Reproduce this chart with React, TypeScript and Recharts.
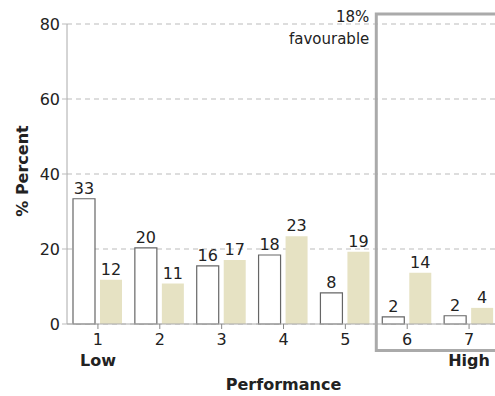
import React from 'react';
import { BarChart, Bar, XAxis, YAxis, CartesianGrid, ReferenceArea, Label, LabelList } from 'recharts';

const categories = ['1', '2', '3', '4', '5', '6', '7'];
const outlineValues = [33.4, 20.3, 15.5, 18.4, 8.3, 1.9, 2.2];
const filledValues = [11.8, 10.8, 17.1, 23.4, 19.3, 13.7, 4.3];
const yTicks = [0, 20, 40, 60, 80];
const endLabels: Record<string, string> = { '1': 'Low', '7': 'High' };
const boxTitle = ['18%', 'favourable'];
const favourableFrom = '6';
const favourableTo = '7';

const data = categories.map((c, i) => ({ cat: c, a: outlineValues[i], b: filledValues[i] }));

const FONT = 'DejaVu Sans, sans-serif';
const TXT = '#222';

const XTick = (props: any) => {
  const { x, y, payload } = props;
  const extra = endLabels[payload.value];
  return (
    <g>
      <text x={x} y={y + 14} textAnchor="middle" fontSize={16} fontFamily={FONT} fill={TXT}>
        {payload.value}
      </text>
      {extra && (
        <text x={x} y={y + 35} textAnchor="middle" fontSize={16} fontWeight="bold" fontFamily={FONT} fill={TXT}>
          {extra}
        </text>
      )}
    </g>
  );
};

const XTitle = (props: any) => {
  const { viewBox } = props;
  return (
    <text x={viewBox.x + viewBox.width / 2} y={viewBox.y + 66} textAnchor="middle" fontSize={16} fontWeight="bold" fontFamily={FONT} fill={TXT}>
      Performance
    </text>
  );
};

const YTitle = (props: any) => {
  const { viewBox } = props;
  const cx = 14;
  const cy = viewBox.y + viewBox.height / 2 - 3;
  return (
    <text x={cx} y={cy} textAnchor="middle" dominantBaseline="central" transform={`rotate(-90, ${cx}, ${cy})`} fontSize={16} fontWeight="bold" fontFamily={FONT} fill={TXT}>
      % Percent
    </text>
  );
};

const BoxLabel = (props: any) => {
  const { viewBox } = props;
  const x = viewBox.x - 7;
  return (
    <g>
      <text x={x} y={viewBox.y + 8} textAnchor="end" fontSize={15} fontFamily={FONT} fill={TXT}>{boxTitle[0]}</text>
      <text x={x} y={viewBox.y + 30} textAnchor="end" fontSize={15} fontFamily={FONT} fill={TXT}>{boxTitle[1]}</text>
    </g>
  );
};

export default function App() {
  return (
    <div style={{ width: 495, height: 396, overflow: 'hidden', position: 'relative' }}>
      <style>{'body{margin:0;overflow:hidden}'}</style>
      <div style={{ position: 'absolute', left: 8, top: 8 }}>
        <BarChart width={500} height={388} data={data} margin={{ top: 16, right: 8, bottom: 0, left: 0 }} barSize={22} barGap={5}>
          <CartesianGrid vertical={false} stroke="#bbb" strokeDasharray="5 4" />
          <XAxis dataKey="cat" height={72} stroke="#aaa" tickLine={{ stroke: '#888' }} tickSize={5} tick={<XTick />} interval={0}>
            <Label content={<XTitle />} />
          </XAxis>
          <YAxis width={59} domain={[0, 80]} ticks={yTicks} stroke="#aaa" tickLine={{ stroke: '#bbb' }} tickSize={5} tick={{ fontSize: 16, fontFamily: FONT, fill: TXT }}>
            <Label content={<YTitle />} />
          </YAxis>
          <Bar dataKey="a" fill="#fff" stroke="#666" strokeWidth={1.2} isAnimationActive={false}>
            <LabelList dataKey="a" position="top" offset={5} formatter={(v: any) => Math.round(v)} style={{ fontSize: 16, fontFamily: FONT, fill: TXT }} />
          </Bar>
          <Bar dataKey="b" fill="#e6e2c3" isAnimationActive={false}>
            <LabelList dataKey="b" position="top" offset={5} formatter={(v: any) => Math.round(v)} style={{ fontSize: 16, fontFamily: FONT, fill: TXT }} />
          </Bar>
          <ReferenceArea x1={favourableFrom} x2={favourableTo} y1={-7.05} y2={82.65} ifOverflow="visible" fill="none" stroke="#aaa" strokeWidth={3} fillOpacity={0}>
            <Label content={<BoxLabel />} />
          </ReferenceArea>
        </BarChart>
      </div>
    </div>
  );
}
